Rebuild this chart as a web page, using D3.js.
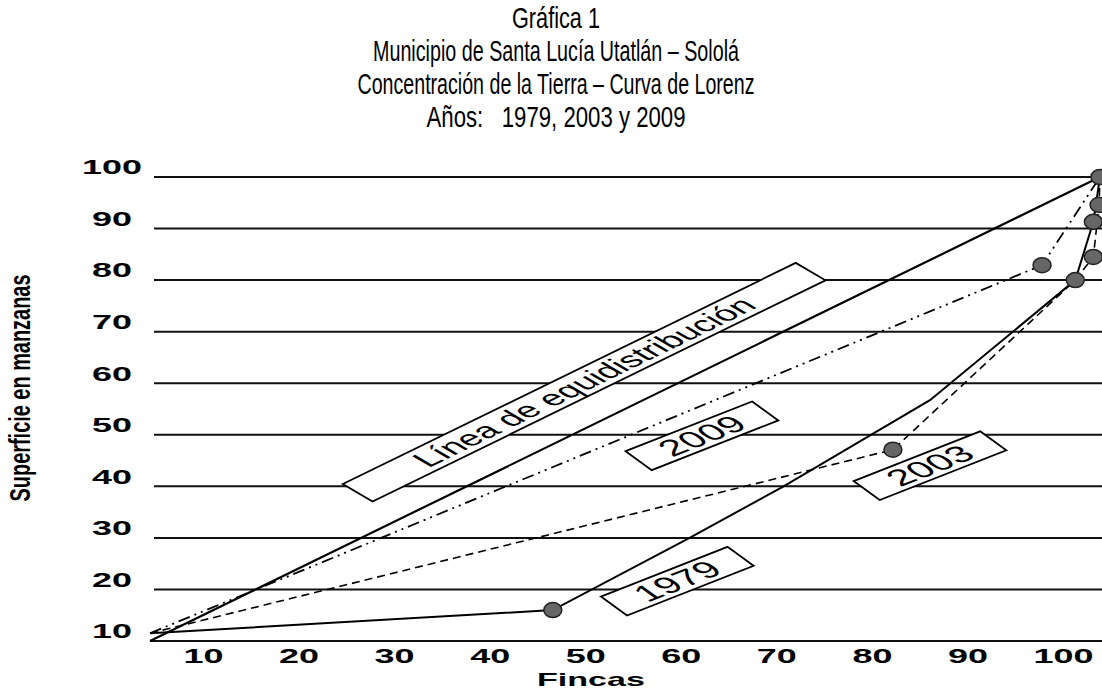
<!DOCTYPE html>
<html>
<head>
<meta charset="utf-8">
<script src="https://cdn.jsdelivr.net/npm/d3@7"></script>
<style>
  body { margin: 0; background: #fff; }
</style>
</head>
<body>
<div id="chart"></div>
<script>
const WIDTH = 1102, HEIGHT = 690;
const PLOT = { LEFT: 150, RIGHT: 1100, TOP: 177, BOTTOM: 641 };
const STRETCH = 1.87; // the original picture was widened horizontally

const titleLines = [
  "Gráfica 1",
  "Municipio de Santa Lucía Utatlán – Sololá",
  "Concentración de la Tierra – Curva de Lorenz",
  "Años:   1979, 2003 y 2009"
];
const titleWidths = [88, 366, 397, 259];

const yTicks = [10, 20, 30, 40, 50, 60, 70, 80, 90, 100];
const xTicks = [10, 20, 30, 40, 50, 60, 70, 80, 90, 100];

// % fincas (x) / % superficie (y)
const equiX = [0, 100];
const equiY = [10, 100];

const x1979 = [0, 42.4, 56.8, 66.6, 82.1, 97.4, 99.3, 100];
const y1979 = [11.5, 16.0, 30.0, 39.9, 56.7, 80.0, 91.3, 100];
const marks1979 = [1, 5, 6, 7];

const x2003 = [0, 78.2, 97.4, 99.3, 99.9, 100];
const y2003 = [11.5, 47.1, 80.0, 84.5, 94.6, 100];
const marks2003 = [1, 3, 4];

const x2009 = [0, 93.9, 100];
const y2009 = [11.5, 82.9, 100];
const marks2009 = [1];

// annotation boxes (centre in data units)
const noteText = ["Línea de equidistribución", "2009", "2003", "1979"];
const noteX = [45.7, 58.1, 82.1, 55.5];
const noteY = [60.2, 49.8, 44.0, 21.6];
const noteAngle = [-42.4, -36.3, -36.3, -36.3];
const noteLen = [328, 84, 84, 84];
const noteFont = [21.5, 23, 23, 23];

const svg = d3.select("#chart")
  .append("svg")
  .attr("width", WIDTH)
  .attr("height", HEIGHT)
  .style("font-family", "'Liberation Sans', Arial, sans-serif");

const x = d3.scaleLinear().domain([0, 100]).range([PLOT.LEFT, PLOT.RIGHT]);
const y = d3.scaleLinear().domain([10, 100]).range([PLOT.BOTTOM, PLOT.TOP]);
const xLabel = d3.scalePoint().domain(xTicks).range([203, 1063]);

// title
svg.append("g")
  .selectAll("text")
  .data(titleLines)
  .join("text")
  .attr("x", 556)
  .attr("y", (d, i) => 28 + i * 33)
  .attr("text-anchor", "middle")
  .attr("font-family", "'Liberation Sans Narrow', 'Liberation Sans', Arial, sans-serif")
  .attr("font-size", 29)
  .attr("textLength", (d, i) => titleWidths[i])
  .attr("lengthAdjust", "spacingAndGlyphs")
  .style("white-space", "pre")
  .text(d => d);

// gridlines
svg.append("g")
  .selectAll("line")
  .data(yTicks)
  .join("line")
  .attr("x1", d => d === 10 ? PLOT.LEFT : PLOT.LEFT + 4)
  .attr("x2", WIDTH)
  .attr("y1", d => y(d))
  .attr("y2", d => y(d))
  .attr("stroke", "#111")
  .attr("stroke-width", 2);

// y axis labels
const yAxis = svg.append("g")
  .attr("transform", "translate(112,0)")
  .call(d3.axisLeft(y).tickValues(yTicks).tickSize(0).tickPadding(0));
yAxis.select(".domain").remove();
yAxis.selectAll("text")
  .attr("x", 0)
  .attr("dy", "-0.15em")
  .attr("text-anchor", "middle")
  .attr("font-size", 21)
  .attr("font-weight", "bold")
  .attr("font-family", "'Liberation Sans', Arial, sans-serif")
  .attr("fill", "#000")
  .attr("textLength", d => String(d).length * 20)
  .attr("lengthAdjust", "spacingAndGlyphs");

// x axis labels
const xAxis = svg.append("g")
  .attr("transform", "translate(0,641)")
  .call(d3.axisBottom(xLabel).tickSize(0).tickPadding(7));
xAxis.select(".domain").remove();
xAxis.selectAll("text")
  .attr("font-size", 21)
  .attr("font-weight", "bold")
  .attr("font-family", "'Liberation Sans', Arial, sans-serif")
  .attr("fill", "#000")
  .attr("textLength", d => String(d).length * 20)
  .attr("lengthAdjust", "spacingAndGlyphs");

svg.append("text")
  .attr("x", 591)
  .attr("y", 686)
  .attr("text-anchor", "middle")
  .attr("font-size", 19)
  .attr("font-weight", "bold")
  .attr("textLength", 108)
  .attr("lengthAdjust", "spacingAndGlyphs")
  .text("Fincas");

svg.append("text")
  .attr("transform", "translate(30,388) scale(1.87,1) rotate(-90)")
  .attr("text-anchor", "middle")
  .attr("font-size", 16)
  .attr("font-weight", "bold")
  .attr("textLength", 227)
  .attr("lengthAdjust", "spacingAndGlyphs")
  .text("Superficie en manzanas");

// curves
const line = d3.line().x(d => x(d[0])).y(d => y(d[1]));
const series = [
  { xs: equiX, ys: equiY, dash: null, w: 2.2, marks: [] },
  { xs: x1979, ys: y1979, dash: null, w: 2, marks: marks1979 },
  { xs: x2003, ys: y2003, dash: "8,5", w: 1.6, marks: marks2003 },
  { xs: x2009, ys: y2009, dash: "12,5,2,5,2,5", w: 1.8, marks: marks2009 }
];

series.forEach(s => {
  const pts = s.xs.map((v, i) => [v, s.ys[i]]);
  svg.append("path")
    .datum(pts)
    .attr("fill", "none")
    .attr("stroke", "#000")
    .attr("stroke-width", s.w)
    .attr("stroke-dasharray", s.dash)
    .attr("d", line);
});

series.forEach(s => {
  svg.append("g")
    .selectAll("ellipse")
    .data(s.marks.map(i => [s.xs[i], s.ys[i]]))
    .join("ellipse")
    .attr("cx", d => x(d[0]))
    .attr("cy", d => y(d[1]))
    .attr("rx", 9)
    .attr("ry", 7.5)
    .attr("fill", "#666")
    .attr("stroke", "#222")
    .attr("stroke-width", 1.5);
});

// annotation boxes
const notes = svg.append("g")
  .selectAll("g")
  .data(noteText)
  .join("g")
  .attr("transform", (d, i) =>
    `translate(${x(noteX[i])},${y(noteY[i])}) scale(${STRETCH},1) rotate(${noteAngle[i]})`);

notes.append("rect")
  .attr("x", (d, i) => -noteLen[i] / 2)
  .attr("y", -11.8)
  .attr("width", (d, i) => noteLen[i])
  .attr("height", 23.6)
  .attr("fill", "#fff")
  .attr("stroke", "#000")
  .attr("stroke-width", 1.8)
  .attr("vector-effect", "non-scaling-stroke");

notes.append("text")
  .attr("text-anchor", "middle")
  .attr("dominant-baseline", "central")
  .attr("font-size", (d, i) => noteFont[i])
  .text(d => d);
</script>
</body>
</html>
